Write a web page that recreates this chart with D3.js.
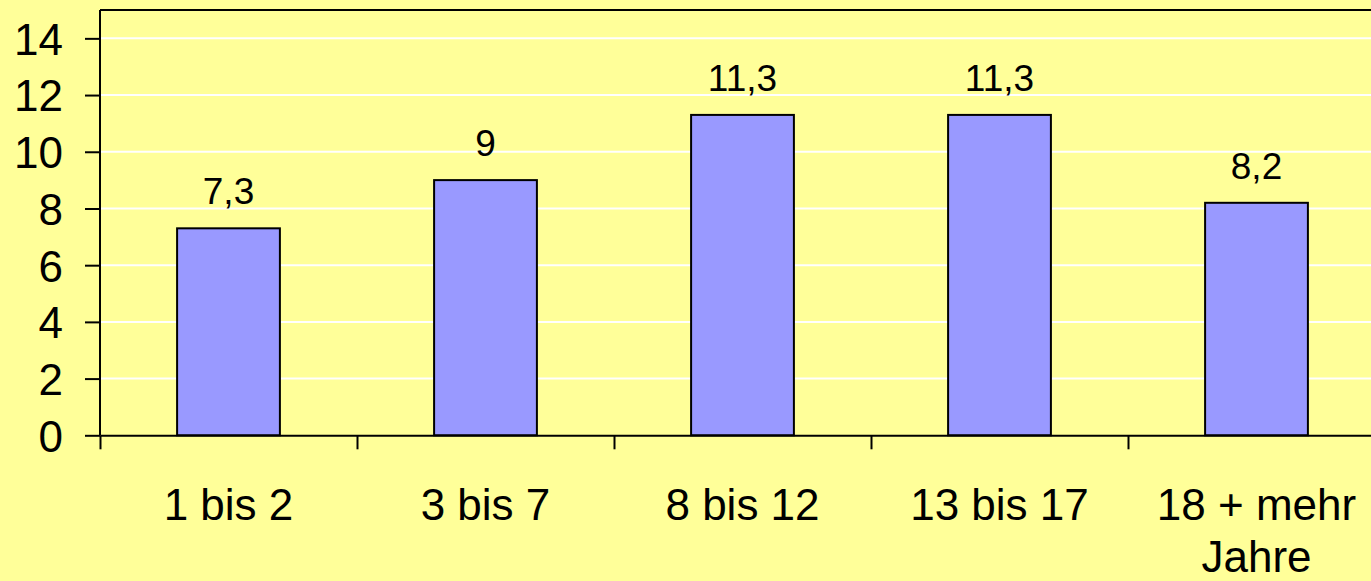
<!DOCTYPE html>
<html>
<head>
<meta charset="utf-8">
<script src="https://cdn.jsdelivr.net/npm/d3@7"></script>
<style>
    body { margin: 0; background: #FFFF99; }
    svg { display: block; font-family: Arial, 'Liberation Sans', sans-serif; }
    .axis path, .axis line { stroke: #000; stroke-width: 2px; }
    .axis text { fill: #000; font-size: 44px; }
</style>
</head>
<body>
<svg id="svgBars"></svg>
<script>
/////////////////////////////////////////////////////////////////////////////////////////

// DATA
var categories = ["1 bis 2", "3 bis 7", "8 bis 12", "13 bis 17", "18 + mehr|Jahre"];
var values = [7.3, 9, 11.3, 11.3, 8.2];
var value_labels = ["7,3", "9", "11,3", "11,3", "8,2"];
var y_ticks = [0, 2, 4, 6, 8, 10, 12, 14];

const WIDTH = 1371, HEIGHT = 581;
const LEFT = 100, TOP = 10, BAND = 257;
const PLOT_HEIGHT = 425.3;

// SETUP ////////////////////////////////////////////////////////////////////////

var svg = d3.select('#svgBars')
    .attr('width', WIDTH)
    .attr('height', HEIGHT);

svg.append("rect")
    .attr("width", WIDTH)
    .attr("height", HEIGHT)
    .attr("fill", "#FFFF99");

var g = svg.append("g").attr("transform", "translate(" + LEFT + "," + TOP + ")");

// x scale - the plot runs past the right edge of the picture
var x = d3.scaleBand()
    .domain(categories)
    .range([0, BAND * categories.length])
    .paddingInner(0.6)
    .paddingOuter(0.3);

var y = d3.scaleLinear().domain([0, 15]).range([PLOT_HEIGHT, 0]);

// grid lines
g.append("g")
    .selectAll("line")
    .data(y_ticks.filter(function (d) { return d > 0; }))
    .enter().append("line")
    .attr("x1", 0)
    .attr("x2", BAND * categories.length)
    .attr("y1", function (d) { return y(d); })
    .attr("y2", function (d) { return y(d); })
    .attr("stroke", "#fff")
    .attr("stroke-width", 2);

// top border of plot area
g.append("line")
    .attr("x1", 0)
    .attr("x2", BAND * categories.length)
    .attr("y1", 0)
    .attr("y2", 0)
    .attr("stroke", "#000")
    .attr("stroke-width", 2);

// bars
g.append("g")
    .selectAll("rect")
    .data(values)
    .enter().append("rect")
    .attr("x", function (d, i) { return x(categories[i]); })
    .attr("y", function (d) { return y(d); })
    .attr("width", x.bandwidth())
    .attr("height", function (d) { return y(0) - y(d); })
    .attr("fill", "#9999FF")
    .attr("stroke", "#000")
    .attr("stroke-width", 2);

// value labels
g.append("g")
    .selectAll("text")
    .data(values)
    .enter().append("text")
    .text(function (d, i) { return value_labels[i]; })
    .attr("x", function (d, i) { return x(categories[i]) + x.bandwidth() / 2; })
    .attr("y", function (d) { return y(d) - 24; })
    .attr("text-anchor", "middle")
    .style("font-size", "37px")
    .style("fill", "#000");

// Y AXIS
var yAxis = g.append("g")
    .attr("class", "axis")
    .call(d3.axisLeft(y).tickValues(y_ticks).tickSize(15).tickSizeOuter(0).tickPadding(22));
yAxis.select(".domain").attr("d", "M0," + PLOT_HEIGHT + "V0");
yAxis.selectAll("text").attr("dy", "0.36em");

// X AXIS - ticks sit between the categories
var xEdges = d3.scaleLinear().domain([0, categories.length]).range([0, BAND * categories.length]);
var xAxis = g.append("g")
    .attr("class", "axis")
    .attr("transform", "translate(0," + PLOT_HEIGHT + ")")
    .call(d3.axisBottom(xEdges).tickValues(d3.range(categories.length + 1)).tickSize(14).tickSizeOuter(0).tickFormat(""));

// category labels, split on | for two lines
var cat = g.append("g")
    .attr("class", "axis")
    .selectAll("text")
    .data(categories)
    .enter().append("text")
    .attr("x", function (d) { return x(d) + x.bandwidth() / 2; })
    .attr("y", PLOT_HEIGHT + 85)
    .attr("text-anchor", "middle");

cat.selectAll("tspan")
    .data(function (d) { return d.split("|"); })
    .enter().append("tspan")
    .attr("x", function () { return d3.select(this.parentNode).attr("x"); })
    .attr("dy", function (d, i) { return i === 0 ? 0 : 52; })
    .text(function (d) { return d; });
</script>
</body>
</html>
